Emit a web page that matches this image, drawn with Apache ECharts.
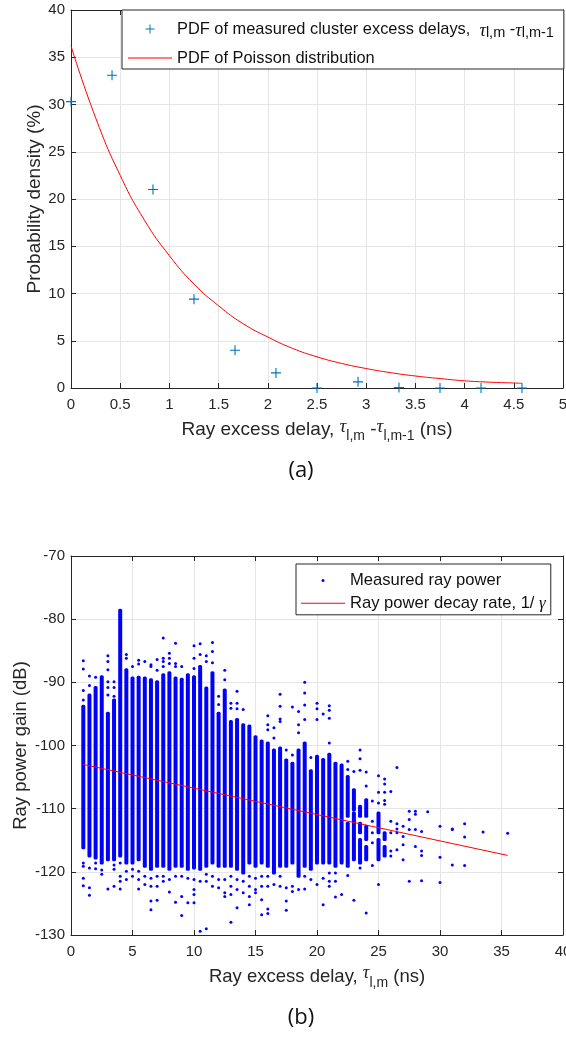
<!DOCTYPE html>
<html>
<head>
<meta charset="utf-8">
<script src="https://cdn.jsdelivr.net/npm/echarts@6/dist/echarts.min.js"></script>
<style>
  html, body { margin: 0; padding: 0; background: #ffffff; }
  #chart { width: 566px; height: 1042px; }
</style>
</head>
<body>
<div id="chart"></div>
<script>
// ---------- (a) inter-arrival delay of clusters ----------
const pdfDelay = [0, 0.417, 0.833, 1.25, 1.667, 2.083, 2.5, 2.917, 3.333, 3.75, 4.167, 4.583];
const pdfMeasured = [30.3, 33.1, 21.0, 9.4, 4.0, 1.6, 0, 0.65, 0.05, 0, 0, 0];
const poissonDelay = [0, 0.25, 0.5, 0.75, 1, 1.25, 1.5, 1.75, 2, 2.25, 2.5, 2.75, 3, 3.25, 3.5, 3.75, 4, 4.25, 4.5, 4.583];
const poissonPdf = [36.2, 28.6, 22.5, 17.7, 14.0, 11.0, 8.7, 6.8, 5.4, 4.2, 3.3, 2.6, 2.06, 1.62, 1.27, 1.0, 0.76, 0.62, 0.53, 0.5];
const pdfTicksX = [0, 0.5, 1, 1.5, 2, 2.5, 3, 3.5, 4, 4.5, 5];
const pdfTicksY = [0, 5, 10, 15, 20, 25, 30, 35, 40];

// ---------- (b) ray power vs ray excess delay ----------
// continuous runs of measured rays in a delay bin: [delay, top gain, bottom gain]
const rayDenseRuns = [
  [1, -93.8, -116.2], [1.5, -92.0, -117.5], [2, -90.8, -117.8], [2.5, -89.1, -118.6],
  [3, -94.9, -118.1], [3.5, -92.8, -118.1], [4, -78.6, -117.5], [4.5, -88.0, -118.6],
  [5, -89.3, -118.6], [5.5, -89.2, -118.1], [6, -89.3, -119.1], [6.5, -89.6, -119.6],
  [7, -89.9, -119.1], [7.5, -88.8, -119.1], [8, -88.5, -119.6], [8.5, -89.3, -119.1],
  [9, -89.5, -119.1], [9.5, -88.8, -119.6], [10, -89.1, -119.4], [10.5, -87.5, -119.6],
  [11, -90.9, -119.1], [11.5, -88.5, -118.6], [12, -94.9, -119.1], [12.5, -91.2, -119.1],
  [13, -96.2, -119.1], [13.5, -95.9, -119.6], [14, -96.7, -120.2], [14.5, -96.9, -118.6],
  [15, -98.6, -119.1], [15.5, -99.3, -118.6], [16, -99.6, -119.1], [16.5, -100.7, -120.2],
  [17, -100.4, -119.1], [17.5, -102.3, -119.1], [18, -102.8, -118.6], [18.5, -100.7, -120.7],
  [19, -99.6, -119.1], [19.5, -104.0, -119.6], [20, -101.7, -118.6], [20.5, -102.2, -118.6],
  [21, -101.4, -118.6], [21.5, -102.8, -119.1], [22, -103.1, -118.6],
  [22.5, -104.9, -111.2], [22.5, -112.3, -119.1],
  [23, -107.0, -110.2], [23, -110.7, -118.1],
  [23.5, -109.6, -111.2], [23.5, -112.3, -113.8], [23.5, -114.9, -118.6],
  [24, -108.6, -111.2], [24, -112.8, -114.9], [24, -116.0, -118.1],
  [25, -110.7, -113.8], [25, -114.9, -118.1],
  [25.5, -113.8, -114.9], [25.5, -116.0, -117.5]
];
// isolated rays per delay bin
const isolatedDelay = [1, 1.5, 2, 2.5, 3, 3.5, 4, 4.5, 5, 5.5, 6, 6.5, 7, 7.5, 8, 8.5, 9, 9.5, 10, 10.5,
  11, 11.5, 12, 12.5, 13, 13.5, 14, 14.5, 15, 15.5, 16, 16.5, 17, 17.5, 18, 18.5, 19, 19.5, 20, 20.5,
  21, 21.5, 22, 22.5, 23, 23.5, 24, 24.5, 25, 25.5, 26, 26.5, 27, 27.5, 28, 28.5, 29, 30, 31, 32, 33.5, 35.5];
const isolatedGain = [
  [-86.6, -87.9, -91.3, -92.8, -118.6, -119.1, -121.0, -122.2],
  [-89.0, -90.5, -119.4, -122.5, -123.7],
  [-89.2, -118.6, -119.5],
  [-119.7, -120.4],
  [-85.8, -86.7, -88.0, -89.9, -90.8, -92.0, -122.7],
  [-89.9, -90.8, -92.2, -118.9, -119.6, -122.3],
  [-118.6, -120.7, -121.5, -122.7],
  [-85.6, -86.2, -119.9, -121.2],
  [-87.5, -119.6, -120.7],
  [-86.5, -87.1, -119.9, -121.2, -122.7],
  [-86.7, -120.7, -122.0],
  [-87.2, -87.5, -121.0, -122.3, -124.6, -126.0],
  [-86.4, -88.1, -120.7, -122.3, -124.5],
  [-83.0, -86.2, -86.7, -87.5, -120.7, -121.5],
  [-85.4, -86.2, -87.0, -121.2, -123.2],
  [-83.8, -87.0, -87.5, -120.7, -124.8],
  [-87.5, -120.7, -123.9, -126.9],
  [-121.0, -124.9],
  [-84.2, -86.2, -87.8, -121.2, -122.8, -123.6, -124.9],
  [-83.9, -85.6, -121.5, -129.4],
  [-85.8, -86.7, -120.4, -121.5, -129.0],
  [-83.7, -85.1, -86.9, -120.7, -122.3],
  [-92.2, -93.5, -121.2, -122.5],
  [-88.1, -89.6, -121.2, -123.3, -123.9],
  [-93.3, -94.1, -120.7, -122.3, -123.6, -128.0],
  [-91.4, -93.3, -94.2, -121.2, -122.8, -125.7],
  [-94.3, -121.5, -123.3],
  [-120.7, -122.3, -123.9, -125.2],
  [-121.0, -122.8, -123.3],
  [-120.7, -122.3, -124.4, -126.8],
  [-95.3, -96.7, -97.5, -120.7, -122.3, -125.9, -126.6],
  [-97.2, -98.8, -122.0],
  [-91.9, -93.8, -95.8, -96.2, -120.7, -122.3],
  [-100.7, -122.5, -124.6, -126.1],
  [-93.9, -101.5, -122.3, -123.1],
  [-94.6, -96.7, -98.0, -122.8],
  [-90.0, -91.7, -93.6, -95.9, -120.7, -122.7],
  [-101.9, -121.2],
  [-93.3, -94.2, -95.9, -122.0],
  [-95.0, -121.0, -125.2],
  [-93.7, -94.4, -95.7, -99.6, -120.2, -121.5, -122.3],
  [-120.2, -121.5, -124.0],
  [-123.6],
  [-102.5, -103.8, -120.6],
  [-104.1, -124.5],
  [-100.7, -102.1, -103.9, -119.4],
  [-104.2, -106.4, -126.5],
  [-108.8, -112.0, -113.8, -115.4, -119.0],
  [-104.8, -107.4, -109.1, -122.0],
  [-105.3, -106.1, -107.4, -108.7, -109.3],
  [-107.3, -112.0, -113.8, -116.7, -117.5],
  [-103.5, -112.4, -113.2, -113.8, -116.5],
  [-112.8, -114.4, -115.7, -118.1],
  [-110.4, -111.7, -113.3, -121.5],
  [-110.4, -110.9, -113.3, -116.0],
  [-113.6, -116.7, -117.4, -121.4],
  [-110.5],
  [-112.8, -117.7, -121.7],
  [-113.2, -113.3, -118.9],
  [-112.4, -114.5, -119.0],
  [-113.7],
  [-113.9]
];
// fitted ray power decay (end points of the straight fit)
const decayDelay = [1, 35.5];
const decayGain = [-103.0, -117.4];
const rayTicksX = [0, 5, 10, 15, 20, 25, 30, 35, 40];
const rayTicksY = [-130, -120, -110, -100, -90, -80, -70];

// ---------- styling ----------
const FONT = '"Liberation Sans", Arial, Helvetica, sans-serif';
const SERIF = '"Liberation Serif", "DejaVu Serif", serif';
const AXIS_C = '#262626';
const GRID_C = '#e5e5e5';
const PLUS = 'path://M4.45,0H5.55V4.45H10V5.55H5.55V10H4.45V5.55H0V4.45H4.45Z';
const LINE_ICON = 'path://M0,0H44V1.1H0Z';

function axisPair(gridIndex, ticks, dim, nameOpt) {
  const min = ticks[0], max = ticks[ticks.length - 1], interval = ticks[1] - ticks[0];
  const line = { show: true, onZero: false, lineStyle: { color: AXIS_C, width: 1 } };
  const tick = { show: true, inside: true, length: 5, lineStyle: { color: AXIS_C, width: 1 } };
  const main = {
    type: 'value', gridIndex, min, max, interval,
    position: dim === 'x' ? 'bottom' : 'left',
    axisLine: line, axisTick: tick,
    axisLabel: { show: true, color: AXIS_C, fontSize: 15, fontFamily: FONT, margin: dim === 'x' ? 9 : 6,
                 showMinLabel: true, showMaxLabel: true },
    splitLine: { show: true, lineStyle: { color: GRID_C, width: 1 } },
    name: nameOpt.name, nameLocation: 'middle', nameGap: nameOpt.gap, nameMoveOverlap: false,
    nameRotate: dim === 'y' ? 90 : 0,
    nameTextStyle: nameOpt.style
  };
  const mirror = {
    type: 'value', gridIndex, min, max, interval,
    position: dim === 'x' ? 'top' : 'right',
    axisLine: line, axisTick: tick,
    axisLabel: { show: false }, splitLine: { show: false }
  };
  return [main, mirror];
}

function titleRich(fs) {
  return {
    n: { fontSize: fs, fontFamily: FONT, color: AXIS_C, lineHeight: 26, verticalAlign: 'middle' },
    t: { fontSize: fs, fontFamily: SERIF, fontStyle: 'italic', color: AXIS_C, lineHeight: 16, verticalAlign: 'top' },
    s: { fontSize: 14, fontFamily: FONT, color: AXIS_C, lineHeight: 19, verticalAlign: 'bottom' }
  };
}

const pdfXName = '{n|Ray excess delay, }{t|τ}{s|l,m}{n| -}{t|τ}{s|l,m-1}{n| (ns)}';
const rayXName = '{n|Ray excess delay, }{t|τ}{s|l,m}{n| (ns)}';

const [pdfX, pdfXTop] = axisPair(0, pdfTicksX, 'x', { name: pdfXName, gap: 29, style: { rich: titleRich(19) } });
const [pdfY, pdfYRight] = axisPair(0, pdfTicksY, 'y', { name: 'Probability density (%)', gap: 27,
  style: { fontSize: 19, fontFamily: FONT, color: AXIS_C } });
const [rayX, rayXTop] = axisPair(1, rayTicksX, 'x', { name: rayXName, gap: 29, style: { rich: titleRich(18.5) } });
const [rayY, rayYRight] = axisPair(1, rayTicksY, 'y', { name: 'Ray power gain (dB)', gap: 41,
  style: { fontSize: 18.5, fontFamily: FONT, color: AXIS_C } });

const legendNames = {
  pdfMeasured: '{n|PDF of measured cluster excess delays,  }{t|τ}{s|l,m}{n| -}{t|τ}{s|l,m-1}',
  pdfPoisson: '{n|PDF of Poisson distribution}',
  rayPoints: '{n|Measured ray power}',
  rayDecay: '{n|Ray power decay rate, 1/ }{g|γ}'
};

const isolatedPoints = [];
isolatedDelay.forEach((d, i) => isolatedGain[i].forEach(g => isolatedPoints.push([d, g])));

const chart = echarts.init(document.getElementById('chart'), null, { renderer: 'canvas' });
chart.setOption({
  animation: false,
  backgroundColor: '#ffffff',
  textStyle: { fontFamily: FONT },
  grid: [
    { left: 71, top: 10, width: 492, height: 378, outerBoundsMode: 'none', containLabel: false },
    { left: 71, top: 556, width: 492, height: 379, outerBoundsMode: 'none', containLabel: false }
  ],
  xAxis: [pdfX, pdfXTop, rayX, rayXTop],
  yAxis: [pdfY, pdfYRight, rayY, rayYRight],
  legend: [
    {
      data: ['pdfMeasured', { name: 'pdfPoisson', icon: LINE_ICON }],
      orient: 'vertical', left: 122, top: 10,
      padding: [11, 10, 3, 6], itemGap: 10, itemWidth: 44, itemHeight: 9,
      backgroundColor: '#ffffff', borderColor: AXIS_C, borderWidth: 1, borderRadius: 0,
      selectedMode: false, symbolKeepAspect: true,
      formatter: name => legendNames[name],
      textStyle: {
        rich: {
          n: { fontSize: 16.4, fontFamily: FONT, color: '#111111', lineHeight: 22, verticalAlign: 'middle' },
          t: { fontSize: 18, fontFamily: SERIF, fontStyle: 'italic', color: '#111111', lineHeight: 18, verticalAlign: 'bottom' },
          s: { fontSize: 14.5, fontFamily: FONT, color: '#111111', lineHeight: 1, verticalAlign: 'bottom' }
        }
      }
    },
    {
      data: ['rayPoints', { name: 'rayDecay', icon: LINE_ICON }],
      orient: 'vertical', left: 296, top: 564,
      padding: [8, 5, 3, 5], itemGap: 5.8, itemWidth: 44, itemHeight: 3,
      backgroundColor: '#ffffff', borderColor: AXIS_C, borderWidth: 1, borderRadius: 0,
      selectedMode: false, symbolKeepAspect: true,
      formatter: name => legendNames[name],
      textStyle: {
        rich: {
          n: { fontSize: 16.6, fontFamily: FONT, color: '#111111', lineHeight: 20, verticalAlign: 'middle' },
          g: { fontSize: 17, fontFamily: SERIF, fontStyle: 'italic', color: '#111111', lineHeight: 20, verticalAlign: 'middle' }
        }
      }
    }
  ],
  graphic: [
    { type: 'text', silent: true,
      style: { text: '(a)', x: 301, y: 471, textAlign: 'center', textVerticalAlign: 'middle',
               fontSize: 22, fontFamily: '"Open Sans", Lato, sans-serif', fill: '#111111' } },
    { type: 'text', silent: true,
      style: { text: '(b)', x: 301, y: 1018, textAlign: 'center', textVerticalAlign: 'middle',
               fontSize: 22, fontFamily: '"Open Sans", Lato, sans-serif', fill: '#111111' } }
  ],
  series: [
    {
      type: 'line', name: 'pdfPoisson', xAxisIndex: 0, yAxisIndex: 0,
      data: poissonDelay.map((d, i) => [d, poissonPdf[i]]),
      smooth: true, symbol: 'none', showSymbol: false,
      lineStyle: { color: '#ff0000', width: 1 }, itemStyle: { color: '#ff0000' }, z: 2
    },
    {
      type: 'scatter', name: 'pdfMeasured', xAxisIndex: 0, yAxisIndex: 0,
      data: pdfDelay.map((d, i) => [d, pdfMeasured[i]]),
      symbol: PLUS, symbolSize: 10, clip: false,
      itemStyle: { color: '#0072bd', opacity: 1 }, z: 3
    },
    {
      type: 'custom', name: 'rayDense', xAxisIndex: 2, yAxisIndex: 2,
      data: rayDenseRuns, encode: { x: 0, y: [1, 2] }, clip: true, z: 2,
      renderItem: (params, api) => {
        const top = api.coord([api.value(0), api.value(1)]);
        const bot = api.coord([api.value(0), api.value(2)]);
        return {
          type: 'rect',
          shape: { x: top[0] - 2, y: top[1] - 1.5, width: 4, height: bot[1] - top[1] + 3, r: 1.5 },
          style: { fill: '#0000ff' }
        };
      }
    },
    {
      type: 'scatter', name: 'rayPoints', xAxisIndex: 2, yAxisIndex: 2,
      data: isolatedPoints, symbol: 'circle', symbolSize: 3,
      itemStyle: { color: '#0000ff', opacity: 1 }, z: 2
    },
    {
      type: 'line', name: 'rayDecay', xAxisIndex: 2, yAxisIndex: 2,
      data: decayDelay.map((d, i) => [d, decayGain[i]]),
      symbol: 'none', showSymbol: false,
      lineStyle: { color: '#ff0000', width: 1 }, itemStyle: { color: '#ff0000' }, z: 4
    }
  ]
});
</script>
</body>
</html>
